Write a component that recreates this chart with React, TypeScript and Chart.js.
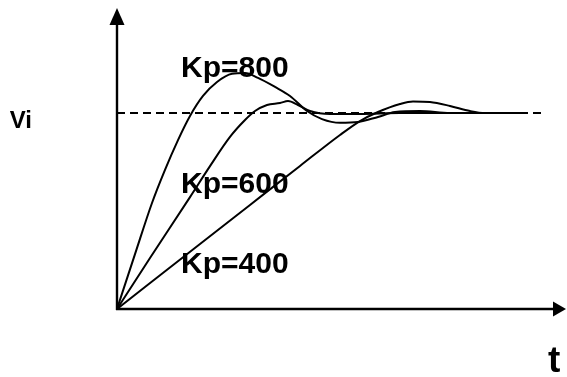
import React, { useEffect, useRef } from "react";
import { Chart, registerables } from "chart.js";

Chart.register(...registerables);

// Step responses (time in arbitrary units, response in % of Vi)
const kp800Time = [0, 4.5, 8.75, 12, 15.25, 18.25, 21.5, 25, 28.75, 32, 35.25, 39.5, 43.25, 47.5, 51.25, 55.75, 60.25, 65.25, 69.5, 75.75, 83.25, 101];
const kp800Value = [0, 28, 54.1, 71, 86.2, 98.5, 108.7, 115.8, 120, 120.4, 117.9, 113.3, 108.7, 101, 96.9, 95, 95.4, 98, 100.5, 101, 100, 100];

const kp600Time = [0, 8.25, 18.25, 23.25, 28.25, 32, 34.5, 37.5, 40.75, 42.75, 45.25, 48.25, 53.25, 60.75, 70.75, 101];
const kp600Value = [0, 26, 57.1, 72.9, 87.8, 96.4, 101, 104.1, 105.1, 106.1, 104.1, 101, 99.5, 99.5, 100, 100];

const kp400Time = [0, 20.75, 33.25, 45.75, 55.75, 60.75, 65.25, 70.75, 74, 78.25, 83.25, 88.25, 92, 101];
const kp400Value = [0, 33.2, 53.1, 73, 88.8, 95.9, 100.5, 104.6, 105.9, 105.6, 103.6, 101, 100, 100];

const setpointTime = [0, 106.5];
const setpointValue = [100, 100];

const curveLabels = ["Kp=800", "Kp=600", "Kp=400"];
const curveLabelTime = [16, 16, 16];
const curveLabelValue = [118.4, 59.2, 18.4];

const setpointLabel = "Vi";
const timeLabel = "t";

const X_MAX = 110;
const Y_MAX = 150;

function toPoints(xs: number[], ys: number[]) {
  return xs.map((x, i) => ({ x, y: ys[i] }));
}

const decorPlugin = {
  id: "decor",
  afterDatasetsDraw(chart: any) {
    const { ctx, chartArea, scales } = chart;
    const { left, right, top, bottom } = chartArea;
    ctx.save();
    ctx.strokeStyle = "#000";
    ctx.fillStyle = "#000";
    ctx.lineWidth = 2.4;
    // y axis
    ctx.beginPath();
    ctx.moveTo(left, bottom + 1);
    ctx.lineTo(left, top + 8);
    ctx.stroke();
    ctx.beginPath();
    ctx.moveTo(left, top - 7);
    ctx.lineTo(left - 7.5, top + 10);
    ctx.lineTo(left + 7.5, top + 10);
    ctx.closePath();
    ctx.fill();
    // x axis
    ctx.beginPath();
    ctx.moveTo(left - 1, bottom);
    ctx.lineTo(right - 2, bottom);
    ctx.stroke();
    ctx.beginPath();
    ctx.moveTo(right + 9, bottom);
    ctx.lineTo(right - 4, bottom - 7.5);
    ctx.lineTo(right - 4, bottom + 7.5);
    ctx.closePath();
    ctx.fill();

    // curve labels
    ctx.font = "bold 30px 'Liberation Sans', Arial, sans-serif";
    ctx.textAlign = "left";
    ctx.textBaseline = "alphabetic";
    curveLabels.forEach((lab, i) => {
      const px = scales.x.getPixelForValue(curveLabelTime[i]);
      const py = scales.y.getPixelForValue(curveLabelValue[i]);
      ctx.fillText(lab, px, py);
    });

    // Vi label
    ctx.font = "bold 24px 'Liberation Sans', Arial, sans-serif";
    ctx.textAlign = "right";
    const viY = scales.y.getPixelForValue(100);
    ctx.fillText(setpointLabel, left - 85, viY + 15);

    // t label
    ctx.font = "bold 37px 'Liberation Sans', Arial, sans-serif";
    ctx.textAlign = "left";
    ctx.fillText(timeLabel, right - 9, bottom + 63);
    ctx.restore();
  },
};

export default function App() {
  const ref = useRef<HTMLCanvasElement | null>(null);
  useEffect(() => {
    if (!ref.current) return;
    const curveStyle = {
      borderColor: "#000",
      borderWidth: 2,
      pointRadius: 0,
      fill: false,
      cubicInterpolationMode: "monotone" as const,
    };
    const chart = new Chart(ref.current, {
      type: "line",
      data: {
        datasets: [
          { label: "Kp=800", data: toPoints(kp800Time, kp800Value), ...curveStyle },
          { label: "Kp=600", data: toPoints(kp600Time, kp600Value), ...curveStyle },
          { label: "Kp=400", data: toPoints(kp400Time, kp400Value), ...curveStyle },
          {
            label: "Vi",
            data: toPoints(setpointTime, setpointValue),
            borderColor: "#000",
            borderWidth: 1.8,
            borderDash: [8, 5],
            pointRadius: 0,
            fill: false,
          },
        ],
      },
      options: {
        animation: false,
        responsive: false,
        devicePixelRatio: 1,
        layout: { padding: { left: 117, right: 10, top: 15, bottom: 68 } },
        plugins: { legend: { display: false }, tooltip: { enabled: false } },
        scales: {
          x: { type: "linear", min: 0, max: X_MAX, display: false },
          y: { type: "linear", min: 0, max: Y_MAX, display: false },
        },
      },
      plugins: [decorPlugin],
    });
    return () => chart.destroy();
  }, []);
  return (
    <div style={{ position: "absolute", left: 0, top: 0, width: 567, height: 377, background: "#fff" }}>
      <canvas ref={ref} width={567} height={377} />
    </div>
  );
}
